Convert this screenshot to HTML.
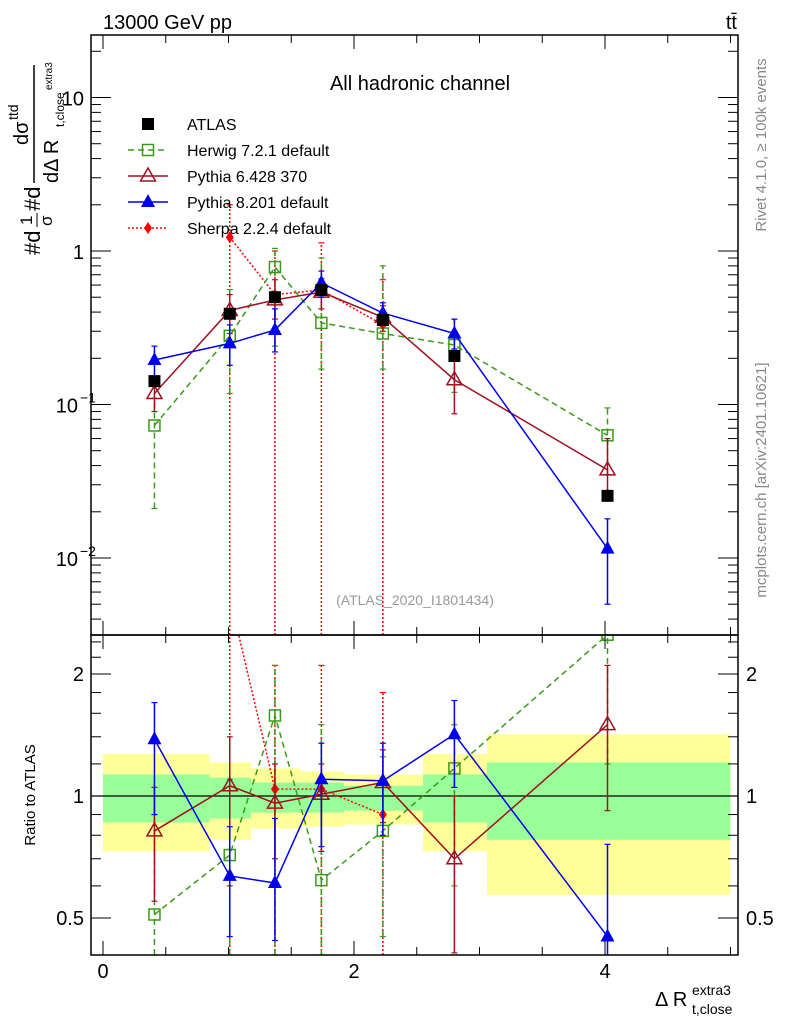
<!DOCTYPE html>
<html><head><meta charset="utf-8"><style>
html,body{margin:0;padding:0;background:#fff;overflow:hidden;width:786px;height:1024px}
svg{display:block;font-family:"Liberation Sans",sans-serif}
</style></head><body>
<svg id="c" width="786" height="1024" viewBox="0 0 786 1024">
<text x="103" y="29" font-size="20">13000 GeV pp</text>
<text x="737" y="29" font-size="20" text-anchor="end">tt̄</text>
<text x="420" y="90" font-size="20" text-anchor="middle">All hadronic channel</text>
<text x="415" y="605" font-size="14" fill="#999" text-anchor="middle">(ATLAS_2020_I1801434)</text>
<text transform="translate(766,145) rotate(-90)" font-size="15" fill="#888" text-anchor="middle">Rivet 4.1.0, ≥ 100k events</text>
<text transform="translate(766,480) rotate(-90)" font-size="15" fill="#888" text-anchor="middle">mcplots.cern.ch [arXiv:2401.10621]</text>
<g transform="translate(40,255) rotate(-90)" font-size="22">
<text x="0" y="0">#d</text><text x="30" y="-8" font-size="17">1</text><line x1="28" y1="-3" x2="42" y2="-3" stroke="#000"/><text x="29" y="12" font-size="17">σ</text>
<text x="44" y="0">#d</text><line x1="72" y1="-6" x2="190" y2="-6" stroke="#000" stroke-width="1.5"/>
<text x="110" y="-12" font-size="20">dσ</text><text x="135" y="-22" font-size="14">ttd</text>
<text x="72" y="18" font-size="20">dΔ R</text><text x="128" y="24" font-size="12">t,close</text><text x="165" y="12" font-size="10">extra3</text>
</g>
<text transform="translate(35,795) rotate(-90)" font-size="15" text-anchor="middle">Ratio to ATLAS</text>
<text x="655" y="1006" font-size="20">Δ R</text>
<text x="692" y="995" font-size="14">extra3</text>
<text x="692" y="1014" font-size="14">t,close</text>
</svg>
<script>
const xs=[0.41,1.01,1.37,1.74,2.23,2.80,4.02];
const atlas=[0.142,0.39,0.50,0.557,0.355,0.207,0.0254];
const herwig=[0.073,0.28,0.786,0.34,0.29,0.244,0.063];
const herwigLo=[0.021,0.118,0.24,0.17,0.17,0.12,0.035];
const herwigHi=[0.11,0.56,1.04,0.9,0.8,0.36,0.095];
const py6=[0.118,0.41,0.48,0.54,0.37,0.145,0.0375];
const py6Lo=[0.09,0.29,0.36,0.42,0.3,0.087,0.025];
const py6Hi=[0.15,0.52,0.65,0.66,0.44,0.2,0.06];
const py8=[0.195,0.25,0.306,0.62,0.394,0.29,0.0115];
const py8Lo=[0.15,0.18,0.22,0.5,0.33,0.23,0.005];
const py8Hi=[0.24,0.33,0.42,0.74,0.46,0.36,0.018];
const sherpaX=[1.01,1.37,1.74,2.23];
const sherpa=[1.23,0.52,0.557,0.33];
const sherpaLo=[0.001,0.001,0.001,0.001];
const sherpaHi=[2.0,1.0,1.13,0.65];
const rHerwig=[0.51,0.715,1.58,0.62,0.82,1.17,2.5];
const rHerwigLo=[0.2,0.35,0.35,0.33,0.45,0.6,1.2];
const rHerwigHi=[0.9,1.1,2.1,1.5,1.25,1.5,3.0];
const rPy6=[0.82,1.06,0.96,1.01,1.08,0.70,1.50];
const rPy6Lo=[0.55,0.6,0.7,0.73,0.86,0.41,0.92];
const rPy6Hi=[1.05,1.4,1.2,1.2,1.3,1.0,2.1];
const rPy8=[1.38,0.635,0.61,1.10,1.09,1.42,0.45];
const rPy8Lo=[0.9,0.45,0.44,0.75,0.8,1.05,0.3];
const rPy8Hi=[1.7,0.84,0.88,1.35,1.35,1.72,0.76];
const rSherpa=[3.1,1.04,1.04,0.9];
const rSherpaLo=[0.3,0.3,0.3,0.3];
const rSherpaHi=[4,2.1,2.1,1.8];
const bandEdges=[0,0.85,1.18,1.57,1.92,2.55,3.06,5.0];
const yelLo=[0.73,0.78,0.83,0.84,0.85,0.73,0.57];
const yelHi=[1.27,1.21,1.17,1.15,1.13,1.27,1.42];
const grnLo=[0.86,0.88,0.91,0.91,0.92,0.86,0.78];
const grnHi=[1.13,1.11,1.08,1.08,1.06,1.13,1.21];

const svg=document.getElementById('c');const NS='http://www.w3.org/2000/svg';
const L=91,R=738,T1=35,B1=635,T2=635,B2=955;
const X=v=>103+125.5*v;
const Y1=v=>251-153.5*Math.log10(v);
const Y2=v=>796-122*Math.log2(v);
function el(t,a,p){const e=document.createElementNS(NS,t);for(const k in a)e.setAttribute(k,a[k]);(p||svg).appendChild(e);return e;}
const defs=el('defs',{});
const c1=el('clipPath',{id:'k1'},defs);el('rect',{x:L,y:T1,width:R-L,height:B1-T1},c1);
const c2=el('clipPath',{id:'k2'},defs);el('rect',{x:L,y:T2,width:R-L,height:B2-T2},c2);
const g1=el('g',{'clip-path':'url(#k1)'});


const g2=el('g',{'clip-path':'url(#k2)'});


for(let i=0;i<yelLo.length;i++){
 const x0=X(bandEdges[i]),x1=X(bandEdges[i+1]);
 const y=el('rect',{x:x0,y:Y2(yelHi[i]),width:x1-x0,height:Y2(yelLo[i])-Y2(yelHi[i]),fill:'#ffff99'},g2);
 
 
 const gr=el('rect',{x:x0,y:Y2(grnHi[i]),width:x1-x0,height:Y2(grnLo[i])-Y2(grnHi[i]),fill:'#99ff99'},g2);
 
 
}
const one=el('line',{x1:L,x2:R,y1:Y2(1),y2:Y2(1),stroke:'#000','stroke-width':1.2},g2);


function marker(g,type,x,y,col,name){
 let m;
 if(type==='sqf')m=el('rect',{x:x-6,y:y-6,width:12,height:12,fill:'#000'},g);
 else if(type==='sqo')m=el('rect',{x:x-5.5,y:y-5.5,width:11,height:11,fill:'none',stroke:col,'stroke-width':1.5},g);
 else if(type==='tro')m=el('polygon',{points:`${x},${y-8} ${x-7.5},${y+5} ${x+7.5},${y+5}`,fill:'none',stroke:col,'stroke-width':1.5},g);
 else if(type==='trf')m=el('polygon',{points:`${x},${y-8} ${x-7},${y+5} ${x+7},${y+5}`,fill:col},g);
 else m=el('polygon',{points:`${x},${y-6} ${x-4},${y} ${x},${y+6} ${x+4},${y}`,fill:col},g);
 
 
}
function series(g,Y,xa,v,lo,hi,col,dash,type,name,top,bot){
 const cl=y=>Math.min(bot,Math.max(top,y));
 const pts=xa.map((x,i)=>X(x)+','+Y(v[i])).join(' ');
 const pl=el('polyline',{points:pts,fill:'none',stroke:col,'stroke-width':1.5,'stroke-dasharray':dash},g);
 
 
 xa.forEach((x,i)=>{
  const yl=cl(Y(lo[i])),yh=cl(Y(hi[i]));
  const e=el('line',{x1:X(x),x2:X(x),y1:yl,y2:yh,stroke:col,'stroke-width':1.5,'stroke-dasharray':dash},g);
  
  
  el('line',{x1:X(x)-3,x2:X(x)+3,y1:yh,y2:yh,stroke:col,'stroke-width':1.2},g);
  el('line',{x1:X(x)-3,x2:X(x)+3,y1:yl,y2:yl,stroke:col,'stroke-width':1.2},g);
  const ym=Y(v[i]);
  if(ym>top-10&&ym<bot+10)marker(g,type,X(x),ym,col,name+'-point');
 });
}
const GR='#3a9a1a',DR='#a01020',BL='#0000ee',RD='#ff0000';
series(g1,Y1,sherpaX,sherpa,sherpaLo,sherpaHi,RD,'2,2','dia','sherpa',T1,B1);
series(g1,Y1,xs,herwig,herwigLo,herwigHi,GR,'6,4','sqo','herwig',T1,B1);
series(g1,Y1,xs,py6,py6Lo,py6Hi,DR,'none','tro','pythia6',T1,B1);
series(g1,Y1,xs,py8,py8Lo,py8Hi,BL,'none','trf','pythia8',T1,B1);
xs.forEach((x,i)=>marker(g1,'sqf',X(x),Y1(atlas[i]),'#000','atlas-point'));
series(g2,Y2,sherpaX,rSherpa,rSherpaLo,rSherpaHi,RD,'2,2','dia','sherpa-ratio',T2,B2);
series(g2,Y2,xs,rHerwig,rHerwigLo,rHerwigHi,GR,'6,4','sqo','herwig-ratio',T2,B2);
series(g2,Y2,xs,rPy6,rPy6Lo,rPy6Hi,DR,'none','tro','pythia6-ratio',T2,B2);
series(g2,Y2,xs,rPy8,rPy8Lo,rPy8Hi,BL,'none','trf','pythia8-ratio',T2,B2);
const f1=el('rect',{x:L,y:T1,width:R-L,height:B1-T1,fill:'none',stroke:'#000','stroke-width':1.5});


const f2=el('rect',{x:L,y:T2,width:R-L,height:B2-T2,fill:'none',stroke:'#000','stroke-width':1.5});


for(let v=0;v<=5.001;v+=0.5){const x=X(v),mj=Math.abs(v%2)<0.01,len=mj?14:8;
 [[T1,1],[B1,-1],[T2,1],[B2,-1]].forEach(([y,d])=>el('line',{x1:x,x2:x,y1:y,y2:y+d*len,stroke:'#000'}));}
[0,2,4].forEach(v=>{const t=el('text',{x:X(v),y:978,'font-size':20,'text-anchor':'middle'});t.textContent=v;
 
 });
for(let d=-3;d<=1;d++)for(let m=1;m<=9;m++){const v=m*Math.pow(10,d),y=Y1(v);if(y<T1||y>B1)continue;const len=m===1?20:10;
 el('line',{x1:L,x2:L+len,y1:y,y2:y,stroke:'#000'});el('line',{x1:R,x2:R-len,y1:y,y2:y,stroke:'#000'});}
const yl=[[0.01,'10','−2'],[0.1,'10','−1'],[1,'1',''],[10,'10','']];
yl.forEach(([v,b,e])=>{const t=el('text',{x:e?78:84,y:Y1(v)+8,'font-size':20,'text-anchor':'end'});t.textContent=b;
 
 
 if(e){const s=el('text',{x:80,y:Y1(v)-2,'font-size':14});s.textContent=e;}});
[0.5,0.6,0.7,0.8,0.9,1,1.2,1.4,1.6,1.8,2,2.2,2.4].forEach(v=>{const y=Y2(v),mj=[0.5,1,2].includes(v),len=mj?20:10;
 el('line',{x1:L,x2:L+len,y1:y,y2:y,stroke:'#000'});el('line',{x1:R,x2:R-len,y1:y,y2:y,stroke:'#000'});});
[[0.5,'0.5'],[1,'1'],[2,'2']].forEach(([v,s])=>{
 const t=el('text',{x:84,y:Y2(v)+7,'font-size':20,'text-anchor':'end'});t.textContent=s;
 
 
 const t2=el('text',{x:746,y:Y2(v)+7,'font-size':20});t2.textContent=s;
 
 });
const leg=[['ATLAS','#000','none','sqf'],['Herwig 7.2.1 default',GR,'6,4','sqo'],['Pythia 6.428 370',DR,'none','tro'],['Pythia 8.201 default',BL,'none','trf'],['Sherpa 2.2.4 default',RD,'2,2','dia']];
leg.forEach(([n,c,d,t],i)=>{const y=124+26*i;
 const g=el('g',{});
 
 
 if(i>0)el('line',{x1:128,x2:168,y1:y,y2:y,stroke:c,'stroke-width':1.5,'stroke-dasharray':d},g);
 marker(g,t,148,y,c,'legend-marker');
 const tx=el('text',{x:187,y:y+6,'font-size':16},g);tx.textContent=n;});
</script>
</body></html>
